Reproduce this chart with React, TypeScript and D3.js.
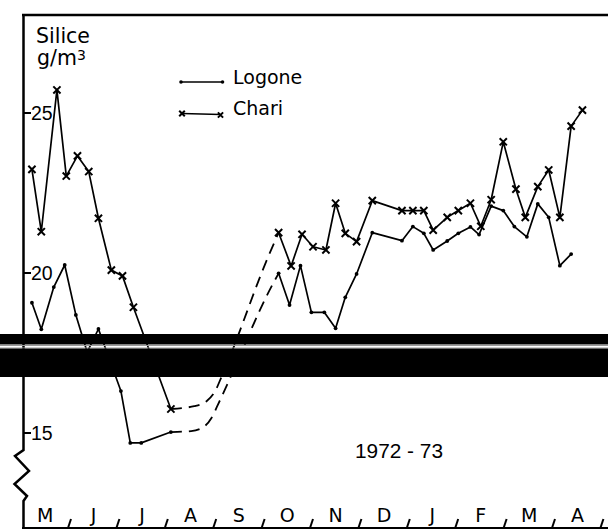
import React from 'react';
import * as d3 from 'd3';

// ---- data ----
const monthLabels = ['M', 'J', 'J', 'A', 'S', 'O', 'N', 'D', 'J', 'F', 'M', 'A'];
const yTicks = [15, 20, 25];

const chariDatesA = ['1972-05-08', '1972-05-14', '1972-05-24', '1972-05-30', '1972-06-06', '1972-06-13', '1972-06-19', '1972-06-27', '1972-07-04', '1972-07-11', '1972-08-04'];
const chariValuesA = [23.24, 21.29, 25.72, 23.03, 23.66, 23.17, 21.71, 20.09, 19.91, 18.93, 15.75];

const chariDatesB = ['1972-10-11', '1972-10-19', '1972-10-26', '1972-11-02', '1972-11-10', '1972-11-16', '1972-11-22', '1972-11-29', '1972-12-09', '1972-12-28', '1973-01-04', '1973-01-11', '1973-01-17', '1973-01-26', '1973-02-02', '1973-02-09', '1973-02-15', '1973-02-21', '1973-02-28', '1973-03-08', '1973-03-14', '1973-03-22', '1973-03-29', '1973-04-05', '1973-04-12', '1973-04-19'];
const chariValuesB = [21.26, 20.22, 21.21, 20.82, 20.72, 22.18, 21.24, 20.98, 22.26, 21.95, 21.95, 21.95, 21.34, 21.74, 21.95, 22.18, 21.46, 22.29, 24.1, 22.62, 21.74, 22.7, 23.22, 21.74, 24.59, 25.09];

const logoneDatesA = ['1972-05-08', '1972-05-14', '1972-05-22', '1972-05-29', '1972-06-05', '1972-06-12', '1972-06-19', '1972-07-03', '1972-07-09', '1972-07-16', '1972-08-04'];
const logoneValuesA = [19.07, 18.24, 19.56, 20.25, 18.69, 17.53, 18.25, 16.31, 14.69, 14.69, 15.03];

const logoneDatesB = ['1972-10-11', '1972-10-18', '1972-10-25', '1972-11-01', '1972-11-09', '1972-11-16', '1972-11-22', '1972-11-29', '1972-12-09', '1972-12-28', '1973-01-04', '1973-01-11', '1973-01-17', '1973-01-26', '1973-02-02', '1973-02-09', '1973-02-14', '1973-02-21', '1973-02-28', '1973-03-07', '1973-03-15', '1973-03-22', '1973-03-29', '1973-04-05', '1973-04-12'];
const logoneValuesB = [19.99, 19.0, 20.23, 18.77, 18.77, 18.27, 19.24, 19.97, 21.26, 21.01, 21.45, 21.24, 20.72, 21.0, 21.24, 21.44, 21.2, 22.09, 21.95, 21.45, 21.13, 22.16, 21.74, 20.23, 20.59];

// dashed (estimated) links across the gap
const chariGapDates = ['1972-08-04', '1972-08-19', '1972-08-27', '1972-09-01', '1972-09-06', '1972-10-04', '1972-10-11'];
const chariGapValues = [15.75, 15.84, 16.0, 16.28, 16.84, 20.47, 21.26];
const logoneGapDates = ['1972-08-04', '1972-08-17', '1972-08-25', '1972-08-30', '1972-09-03', '1972-10-07', '1972-10-11'];
const logoneGapValues = [15.03, 15.06, 15.19, 15.47, 15.88, 19.63, 19.99];

// ---- helpers ----
function monthPos(s: string): number {
  const [y, m, d] = s.split('-').map(Number);
  const dim = new Date(y, m, 0).getDate();
  return (y - 1972) * 12 + (m - 5) + (d - 1) / dim;
}

const W = 608;
const H = 529;
const xScale = d3.scaleLinear().domain([0, 12]).range([21, 601.8]);
const yScale = d3.scaleLinear().domain([15, 25]).range([433, 113]);

type P = [string, number];
const zip = (ds: string[], vs: number[]): P[] => ds.map((d, i) => [d, vs[i]] as P);

const line = d3
  .line<P>()
  .x((d) => xScale(monthPos(d[0])))
  .y((d) => yScale(d[1]));
const gapLine = d3
  .line<P>()
  .x((d) => xScale(monthPos(d[0])))
  .y((d) => yScale(d[1]))
  .curve(d3.curveMonotoneX);

const TEXT = '"DejaVu Sans", sans-serif';
const NUM = '"Liberation Sans", Arial, sans-serif';

function Cross({ x, y, s = 3.6 }: { x: number; y: number; s?: number }) {
  return (
    <path
      d={`M${x - s},${y - s}L${x + s},${y + s}M${x - s},${y + s}L${x + s},${y - s}`}
      stroke="#000"
      strokeWidth={2}
      fill="none"
    />
  );
}

export default function App() {
  const chariA = zip(chariDatesA, chariValuesA);
  const chariB = zip(chariDatesB, chariValuesB);
  const logoneA = zip(logoneDatesA, logoneValuesA);
  const logoneB = zip(logoneDatesB, logoneValuesB);
  const chariGap = zip(chariGapDates, chariGapValues);
  const logoneGap = zip(logoneGapDates, logoneGapValues);

  const px = (d: P) => xScale(monthPos(d[0]));
  const py = (d: P) => yScale(d[1]);

  const axisX = 23.5;

  return (
    <svg
      width={W}
      height={H}
      viewBox={`0 0 ${W} ${H}`}
      style={{ position: 'absolute', left: 0, top: 0, background: '#fff' }}
    >
      <rect x={0} y={0} width={W} height={H} fill="#fff" />

      {/* frame: top border and left axis with break */}
      <line x1={22} y1={15} x2={W} y2={15} stroke="#000" strokeWidth={2.5} />
      <path
        d={`M${axisX},14 L${axisX},450 L15,456 L29,471 L14.5,484 L27,496 L${axisX},501 L${axisX},528`}
        stroke="#000"
        strokeWidth={2.5}
        fill="none"
        strokeLinejoin="miter"
      />
      <line x1={22} y1={528} x2={W} y2={528} stroke="#000" strokeWidth={1.8} />

      {/* y ticks */}
      {yTicks.map((t) => (
        <g key={t}>
          <line x1={axisX} x2={31} y1={yScale(t)} y2={yScale(t)} stroke="#000" strokeWidth={2} />
          <text x={31} y={yScale(t) + 7} fontFamily={NUM} fontSize={19.5} fill="#000">
            {t}
          </text>
        </g>
      ))}

      {/* y title */}
      <text x={36} y={43} fontFamily={TEXT} fontSize={20.5} fill="#000">
        Silice
      </text>
      <text x={37} y={65} fontFamily={TEXT} fontSize={20.5} fill="#000">
        g/m
        <tspan fontSize={14} dy={-5}>
          3
        </tspan>
      </text>

      {/* legend */}
      <line x1={181} y1={82} x2={222.5} y2={82} stroke="#000" strokeWidth={1.5} />
      <circle cx={181} cy={82} r={1.8} fill="#000" />
      <circle cx={222.5} cy={82} r={1.8} fill="#000" />
      <text x={233} y={84} fontFamily={TEXT} fontSize={19} fill="#000">
        Logone
      </text>
      <line x1={182} y1={113.5} x2={220.5} y2={114.5} stroke="#000" strokeWidth={1.5} />
      <Cross x={182} y={113.5} s={2.8} />
      <Cross x={220.5} y={115} s={2.6} />
      <text x={233} y={115} fontFamily={TEXT} fontSize={19} fill="#000">
        Chari
      </text>

      {/* series lines */}
      {[chariA, chariB, logoneA, logoneB].map((s, i) => (
        <path key={i} d={line(s) || ''} stroke="#000" strokeWidth={1.7} fill="none" strokeLinejoin="round" />
      ))}
      {[chariGap, logoneGap].map((s, i) => (
        <path key={'g' + i} d={gapLine(s) || ''} stroke="#000" strokeWidth={1.8} fill="none" strokeDasharray="11 7" />
      ))}

      {/* markers */}
      {[...chariA, ...chariB].map((d, i) => (
        <Cross key={'c' + i} x={px(d)} y={py(d)} />
      ))}
      {[...logoneA, ...logoneB].map((d, i) => (
        <circle key={'l' + i} cx={px(d)} cy={py(d)} r={1.9} fill="#000" />
      ))}

      {/* year label */}
      <text x={355} y={458} fontFamily={NUM} fontSize={21} fill="#000" textLength={88} lengthAdjust="spacingAndGlyphs">
        1972 - 73
      </text>

      {/* month labels and separators */}
      {monthLabels.map((m, i) => (
        <g key={'m' + i}>
          <text x={xScale(i + 0.5)} y={522} textAnchor="middle" fontFamily={TEXT} fontSize={19} fill="#000">
            {m}
          </text>
          <line
            x1={xScale(i + 1) + 1.6}
            y1={519}
            x2={xScale(i + 1) - 1.4}
            y2={528}
            stroke="#000"
            strokeWidth={2}
          />
        </g>
      ))}

      {/* black bands across the figure */}
      <rect x={0} y={334} width={W} height={10.5} fill="#000" />
      <line x1={0} x2={W} y1={345.5} y2={345.5} stroke="#999" strokeWidth={1} />
      <line x1={0} x2={W} y1={348} y2={348} stroke="#999" strokeWidth={1} />
      <rect x={0} y={348.5} width={W} height={28.5} fill="#000" />
    </svg>
  );
}
